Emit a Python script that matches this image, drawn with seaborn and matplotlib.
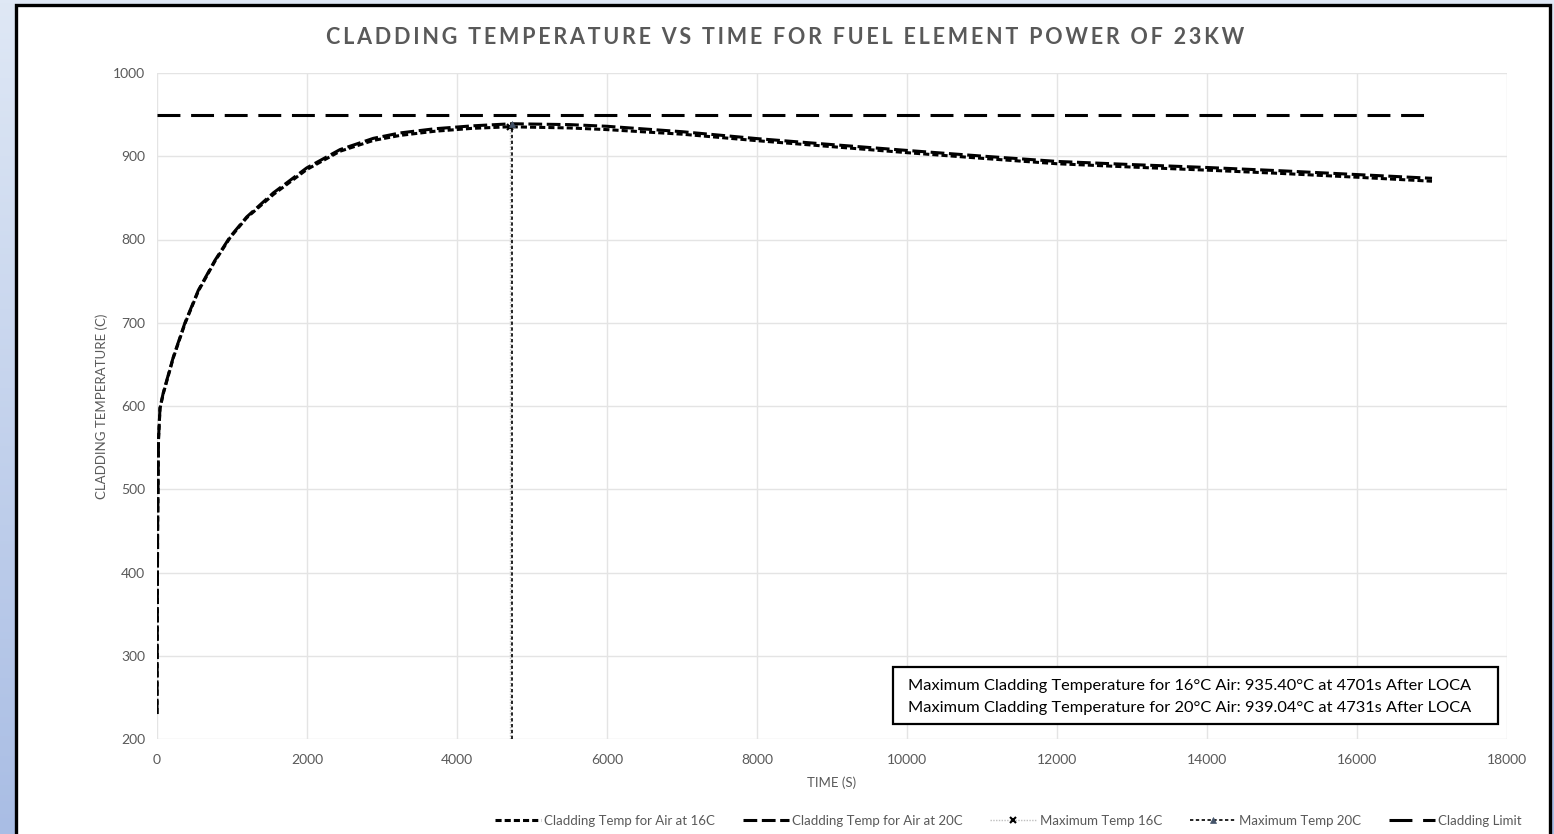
import numpy as np
import pandas as pd
import matplotlib
matplotlib.use("Agg")
import matplotlib.pyplot as plt
import seaborn as sns
from matplotlib.patches import Rectangle
from matplotlib.colors import LinearSegmentedColormap

# ---------------- data ----------------
time_16c = [0, 8, 20, 40, 84, 218, 373, 551, 773, 973, 1195, 1551, 1996, 2440, 2884, 3240,
            3700, 4200, 4701, 5500, 6000, 7000, 8000, 9000, 10000, 11000, 12000, 13000,
            14000, 15000, 16000, 17000]
temp_16c = [230, 450, 560, 597, 615, 658, 699, 738, 774, 802, 826, 854, 884, 906, 919, 925,
            930, 933.5, 935.40, 934, 932, 926.5, 918.7, 911.5, 904.3, 897.5, 891, 887,
            883.3, 879.3, 874.8, 870]
time_20c = [0, 8, 20, 40, 84, 218, 373, 551, 773, 973, 1195, 1551, 1996, 2440, 2884, 3240,
            3700, 4200, 4731, 5500, 6000, 7000, 8000, 9000, 10000, 11000, 12000, 13000,
            14000, 15000, 16000, 17000]
temp_20c = [230, 450, 560, 598, 616, 659, 700, 739, 775, 803, 827, 856, 886, 908, 921.5, 928,
            933, 936.5, 939.04, 938, 936, 929.5, 921.2, 914, 907, 900.2, 893.8, 890,
            886.5, 882.5, 878, 873.5]
max_time_16c = [4701, 4701]
max_temp_16c = [200, 935.40]
max_time_20c = [4731, 4731]
max_temp_20c = [200, 939.04]
limit_time = [0, 17000]
limit_temp = [950, 950]

x_ticks = list(range(0, 18001, 2000))
y_ticks = list(range(200, 1001, 100))

title = "CLADDING TEMPERATURE VS TIME FOR FUEL ELEMENT POWER OF 23KW"
x_label = "TIME (S)"
y_label = "CLADDING TEMPERATURE (C)"
note_lines = ["Maximum Cladding Temperature for 16°C Air: 935.40°C at 4701s After LOCA",
              "Maximum Cladding Temperature for 20°C Air: 939.04°C at 4731s After LOCA"]
legend_labels = ["Cladding Temp for Air at 16C", "Cladding Temp for Air at 20C",
                 "Maximum Temp 16C", "Maximum Temp 20C", "Cladding Limit"]

# ---------------- style ----------------
sns.set_theme(style="whitegrid")
plt.rcParams["font.family"] = ["Lato", "DejaVu Sans"]
grey_txt = "#595959"

W, H = 1554, 834
fig = plt.figure(figsize=(W / 100, H / 100), dpi=100)

# blue gradient background
bg = fig.add_axes([0, 0, 1, 1], zorder=-10)
grad = np.linspace(0, 1, 256).reshape(-1, 1)
cmap = LinearSegmentedColormap.from_list("bg", ["#dfe8f5", "#a9bde4"])
bg.imshow(grad, aspect="auto", cmap=cmap, extent=[0, 1, 0, 1], origin="upper")
bg.set_axis_off()

# white chart frame with black border
fig.patches.append(Rectangle((16 / W, -0.02), (1550 - 16) / W, 1 - 5 / H + 0.02,
                             transform=fig.transFigure, facecolor="white",
                             edgecolor="black", linewidth=2.4, zorder=-5))

ax = fig.add_axes([157 / W, 1 - 739 / H, (1507 - 157) / W, (739 - 73) / H])
ax.set_facecolor("white")

df16 = pd.DataFrame({"t": time_16c, "T": temp_16c})
df20 = pd.DataFrame({"t": time_20c, "T": temp_20c})
dfm16 = pd.DataFrame({"t": max_time_16c, "T": max_temp_16c})
dfm20 = pd.DataFrame({"t": max_time_20c, "T": max_temp_20c})
dflim = pd.DataFrame({"t": limit_time, "T": limit_temp})

sns.lineplot(data=df16, x="t", y="T", ax=ax, estimator=None, sort=False,
             color="black", linewidth=2.2, linestyle=(0, (2.0, 1.0)),
             label=legend_labels[0])
sns.lineplot(data=df20, x="t", y="T", ax=ax, estimator=None, sort=False,
             color="black", linewidth=2.2, linestyle=(0, (4.5, 1.5)),
             label=legend_labels[1])
sns.lineplot(data=dfm16, x="t", y="T", ax=ax, estimator=None, sort=False,
             color="#bfbfbf", linewidth=1.0, linestyle=(0, (1, 1)),
             marker="x", markersize=5, markeredgecolor="black", markeredgewidth=1.5,
             markevery=[1], label=legend_labels[2])
sns.lineplot(data=dfm20, x="t", y="T", ax=ax, estimator=None, sort=False,
             color="black", linewidth=1.2, linestyle=(0, (2, 1.5)),
             marker="^", markersize=5, markerfacecolor="#44546a", markeredgecolor="#44546a",
             markeredgewidth=0.5, markevery=[1], label=legend_labels[3])
sns.lineplot(data=dflim, x="t", y="T", ax=ax, estimator=None, sort=False,
             color="black", linewidth=2.2, linestyle=(0, (7.5, 3.5)),
             label=legend_labels[4])

ax.set_xlim(0, 18000)
ax.set_ylim(200, 1000)
ax.set_xticks(x_ticks)
ax.set_yticks(y_ticks)
ax.grid(True, color="#e4e4e4", linewidth=1.0)
for s in ax.spines.values():
    s.set_visible(False)
ax.tick_params(axis="both", length=0, labelsize=10, labelcolor=grey_txt)
ax.tick_params(axis="x", pad=10.5)
ax.tick_params(axis="y", pad=8.5)
ax.set_xlabel(x_label, fontsize=9.5, color=grey_txt, labelpad=8)
ax.set_ylabel(y_label, fontsize=9.5, color=grey_txt, labelpad=4)

spaced_title = "\u2009".join(title)
fig.text(785 / W, 1 - 37 / H, spaced_title, ha="center", va="center", fontsize=15.5,
         fontweight="bold", color=grey_txt, family=["Lato", "DejaVu Sans"])

# annotation box
ax.add_patch(Rectangle(((893 - 157) / 1350, (739 - 724) / 666), (1498 - 893) / 1350,
                       (724 - 667) / 666, transform=ax.transAxes, facecolor="white",
                       edgecolor="black", linewidth=1.6, zorder=5))
for line, ypx in zip(note_lines, [686, 708]):
    ax.text((908 - 157) / 1350, (739 - ypx) / 666, line, transform=ax.transAxes,
            ha="left", va="center", fontsize=11.8, color="black", zorder=6)

leg = ax.get_legend()
handles, labels = ax.get_legend_handles_labels()
if leg is not None:
    leg.remove()
fig.legend(handles, labels, ncol=5, loc="center right", bbox_to_anchor=(1534 / W, 1 - 821 / H),
           frameon=False, fontsize=9.5, labelcolor=grey_txt, handlelength=3.5,
           columnspacing=2.1, handletextpad=0.25)

fig.savefig("out.png", dpi=100)
